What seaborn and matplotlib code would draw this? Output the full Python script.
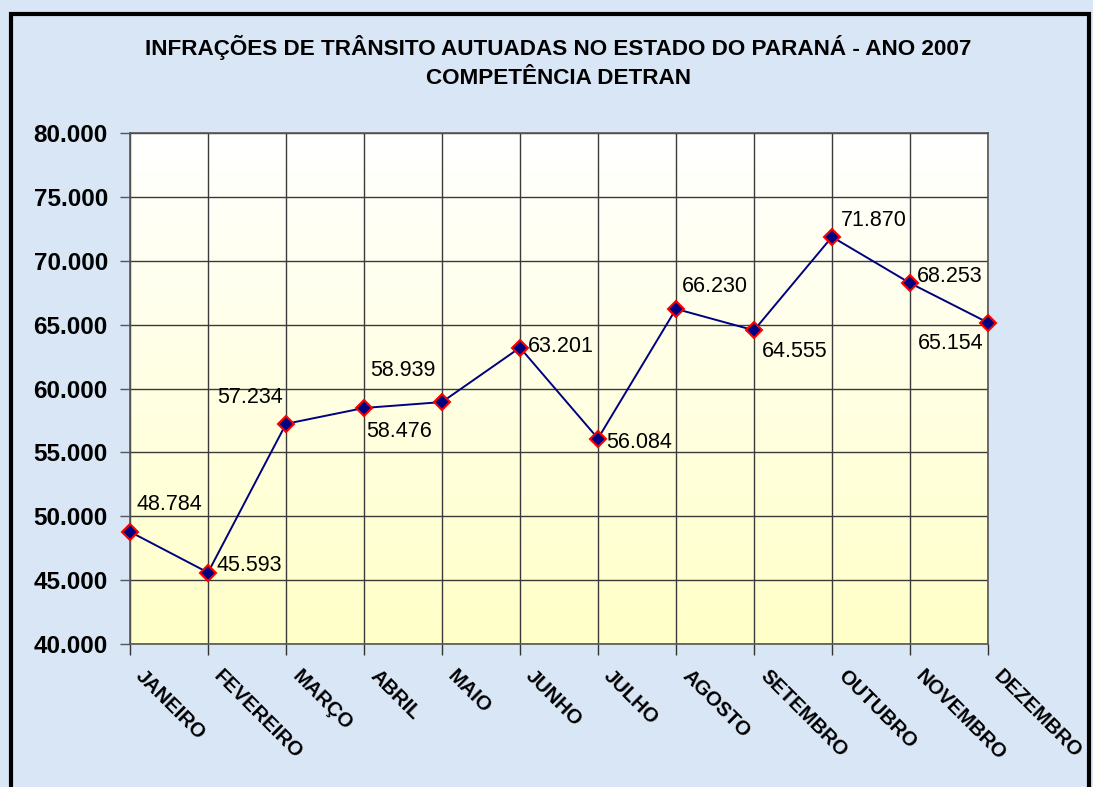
import numpy as np
import pandas as pd
import matplotlib
matplotlib.use('Agg')
import matplotlib.pyplot as plt
import matplotlib.transforms as mtrans
from matplotlib.patches import Rectangle
import seaborn as sns

# dados
meses = ['JANEIRO', 'FEVEREIRO', 'MARÇO', 'ABRIL', 'MAIO', 'JUNHO',
         'JULHO', 'AGOSTO', 'SETEMBRO', 'OUTUBRO', 'NOVEMBRO', 'DEZEMBRO']
infracoes = [48784, 45593, 57234, 58476, 58939, 63201,
             56084, 66230, 64555, 71870, 68253, 65154]
rotulos = ['48.784', '45.593', '57.234', '58.476', '58.939', '63.201',
           '56.084', '66.230', '64.555', '71.870', '68.253', '65.154']
y_ticks = [40000, 45000, 50000, 55000, 60000, 65000, 70000, 75000, 80000]
y_tick_labels = ['40.000', '45.000', '50.000', '55.000', '60.000',
                 '65.000', '70.000', '75.000', '80.000']

# deslocamento dos rótulos (pontos) e alinhamento
desloc = [(5, 19.5), (6, 5), (-2, 19), (1.5, -17), (-5, 23), (6, 1),
          (6, -3), (4, 16), (6, -15), (6.5, 12), (5, 5), (-3.5, -15)]
alinh = ['left', 'left', 'right', 'left', 'right', 'left',
         'left', 'left', 'left', 'left', 'left', 'right']

df = pd.DataFrame({'mes': np.arange(len(meses)), 'valor': infracoes})

sns.set_style('white')
plt.rcParams['font.family'] = ['Liberation Sans', 'DejaVu Sans']
plt.rcParams['text.color'] = 'black'
plt.rcParams['xtick.color'] = 'black'
plt.rcParams['ytick.color'] = 'black'

fig = plt.figure(figsize=(10.93, 7.87), dpi=100)
fig.patch.set_facecolor('#d9e6f5')

# moldura preta
fig.patches.append(Rectangle((11 / 1093, -0.05), 1078 / 1093, 1.05 - 14 / 787,
                             transform=fig.transFigure, fill=False,
                             edgecolor='black', linewidth=3, zorder=10))

ax = fig.add_axes([130 / 1093, 1 - 644 / 787, 858 / 1093, 511 / 787])

# fundo em degradê branco (topo) -> amarelo claro (base)
grad = np.linspace(0, 1, 256).reshape(-1, 1)
cmap = matplotlib.colors.LinearSegmentedColormap.from_list('g', ['#ffffff', '#ffffc8'])
ax.imshow(grad, aspect='auto', cmap=cmap, extent=[0, 11, 40000, 80000],
          origin='upper', zorder=0)

sns.lineplot(data=df, x='mes', y='valor', ax=ax, color='#000080', linewidth=1.4,
             marker='D', markersize=8, markerfacecolor='#000080',
             markeredgecolor='#ff0000', markeredgewidth=1.5, zorder=5,
             clip_on=False)

for i, (v, r) in enumerate(zip(infracoes, rotulos)):
    ax.annotate(r, (i, v), xytext=desloc[i], textcoords='offset points',
                ha=alinh[i], va='center', fontsize=15.5, color='black', zorder=6)

ax.set_xlim(0, 11)
ax.set_ylim(40000, 80000)
ax.set_yticks(y_ticks)
ax.set_yticklabels(y_tick_labels, fontsize=17.5, fontweight='bold')
ax.set_xticks(range(len(meses)))
ax.tick_params(axis='y', length=7, width=1, color='#555555', pad=9, left=True)
ax.tick_params(axis='x', length=8, width=1, color='#333333', pad=13, bottom=True)
ax.set_xticklabels(meses, rotation=-45, ha='left', va='center',
                   rotation_mode='anchor', fontsize=14.5, fontweight='bold')
desl_x = mtrans.ScaledTranslation(9 / 100, 0, fig.dpi_scale_trans)
for lbl in ax.get_xticklabels():
    lbl.set_transform(lbl.get_transform() + desl_x)
ax.set_xlabel('')
ax.set_ylabel('')
ax.grid(True, color='#3a3a3a', linewidth=1)
ax.set_axisbelow(False)
for s in ax.spines.values():
    s.set_color('#555555')
    s.set_linewidth(1.2)
    s.set_zorder(4)

fig.text(0.511, 1 - 47 / 787, 'INFRAÇÕES DE TRÂNSITO AUTUADAS NO ESTADO DO PARANÁ - ANO 2007',
         ha='center', va='center', fontsize=16.2, fontweight='bold')
fig.text(0.511, 1 - 78 / 787, 'COMPETÊNCIA DETRAN',
         ha='center', va='center', fontsize=16.2, fontweight='bold')

fig.savefig('out.png', dpi=100, facecolor=fig.get_facecolor())
